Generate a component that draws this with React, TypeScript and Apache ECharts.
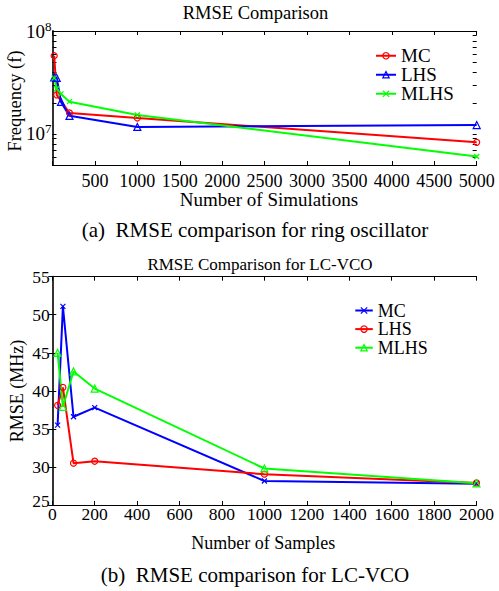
import React, { useEffect, useRef } from 'react';
import * as echarts from 'echarts';

const FONT = "'Liberation Serif', serif";

// ---------- (a) ring oscillator ----------
const simXMC = [20, 50, 200, 1000, 5000];
const simX = [20, 50, 100, 200, 1000, 5000];
const freqMC = [5.75e7, 2.4e7, 1.6e7, 1.43e7, 8.3e6];
const freqLHS = [3.55e7, 3.5e7, 2.05e7, 1.5e7, 1.17e7, 1.22e7];
const freqMLHS = [3.5e7, 2.75e7, 2.45e7, 2.06e7, 1.53e7, 6.05e6];
const freqMajorTicks = [1e7, 1e8];
const freqMinorTicks = [5e6, 6e6, 7e6, 8e6, 9e6, 2e7, 3e7, 4e7, 5e7, 6e7, 7e7, 8e7, 9e7];
const legendA = ['MC', 'LHS', 'MLHS'];
const titleA = 'RMSE Comparison';
const xNameA = 'Number of Simulations';
const yNameA = 'Frequency (f)';
const captionA = '(a)  RMSE comparison for ring oscillator';

// ---------- (b) LC-VCO ----------
const sampleX = [25, 50, 100, 200, 1000, 2000];
const rmseMC = [35.5, 51.1, 36.6, 37.8, 28.15, 27.8];
const rmseLHS = [38.1, 40.45, 30.5, 30.75, 29.05, 27.9];
const rmseMLHS = [45.0, 37.9, 42.55, 40.3, 29.8, 27.85];
const legendB = ['MC', 'LHS', 'MLHS'];
const titleB = 'RMSE Comparison for LC-VCO';
const xNameB = 'Number of Samples';
const yNameB = 'RMSE (MHz)';
const captionB = '(b)  RMSE comparison for LC-VCO';

const RED = '#ff0000';
const BLUE = '#0000ff';
const GREEN = '#00ff00';
const XSYM = 'path://M0,0L10,10M10,0L0,10';

const blackLine = { show: true, lineStyle: { color: '#000', width: 1 } };
const rightLine = { show: true, lineStyle: { color: '#333', width: 2 } };

function txt(text: string, x: number, y: number, size: number, rotation = 0) {
  return {
    type: 'text',
    x,
    y,
    rotation,
    silent: true,
    style: {
      text,
      fontSize: size,
      fontFamily: FONT,
      textAlign: 'center',
      textVerticalAlign: 'middle',
      fill: '#000',
    },
  };
}

function series(name: string, xs: number[], ys: number[], color: string, symbol: string, size: number, xi: number, yi: number) {
  return {
    name,
    type: 'line',
    xAxisIndex: xi,
    yAxisIndex: yi,
    data: xs.map((x, i) => [x, ys[i]]),
    symbol,
    symbolSize: size,
    showSymbol: true,
    lineStyle: { color, width: 2 },
    itemStyle: { color: 'rgba(255,255,255,0)', borderColor: color, borderWidth: 1.2 },
    emphasis: { disabled: true },
  };
}

const logMin = 5e6;
const logMax = 1e8;
const minorTickPositions = [...freqMinorTicks, ...freqMajorTicks].map((v) => Math.log10(v));

const optionA: any = {
  animation: false,
  textStyle: { fontFamily: FONT },
  grid: { left: 52.5, top: 31, right: 22.3, bottom: 83, outerBoundsMode: 'none' },
  legend: {
    orient: 'vertical',
    left: 370,
    top: 41.25,
    itemWidth: 20,
    itemHeight: 8,
    itemGap: 0,
    data: legendA,
    selectedMode: false,
    itemStyle: { borderWidth: 1.2 },
    lineStyle: { width: 2 },
    textStyle: { fontSize: 19, lineHeight: 18.5, fontFamily: FONT, color: '#000' },
  },
  xAxis: [
    {
      type: 'value', position: 'bottom', min: 0, max: 5000, interval: 500,
      axisLine: blackLine,
      axisTick: { show: true, inside: true, length: 4, lineStyle: { color: '#000' } },
      axisLabel: {
        margin: 6.5, fontSize: 18, fontFamily: FONT, color: '#000',
        formatter: (v: number) => (v === 0 ? '' : String(v)),
      },
      splitLine: { show: false },
    },
    {
      type: 'value', position: 'top', min: 0, max: 5000, interval: 500,
      axisLine: blackLine,
      axisTick: { show: true, inside: true, length: 4, lineStyle: { color: '#000' } },
      axisLabel: { show: false },
      splitLine: { show: false },
    },
  ],
  yAxis: [
    {
      type: 'log', logBase: 10, position: 'left', min: logMin, max: logMax,
      axisLine: blackLine,
      axisTick: { show: false },
      axisLabel: {
        margin: 1, color: '#000', fontFamily: FONT,
        formatter: (v: number) => {
          const e = Math.log10(v);
          if (Math.abs(e - Math.round(e)) > 1e-6) return '';
          return `{b|10}{s|${Math.round(e)}}`;
        },
        rich: {
          b: { fontSize: 19, lineHeight: 19, fontFamily: FONT, color: '#000' },
          s: { fontSize: 13, lineHeight: 13, fontFamily: FONT, color: '#000', padding: [0, 0, 10, 0] },
        },
      },
      splitLine: { show: false },
    },
    {
      type: 'log', logBase: 10, position: 'right', min: logMin, max: logMax,
      axisLine: rightLine,
      axisTick: { show: false },
      axisLabel: { show: false },
      splitLine: { show: false },
    },
    {
      type: 'value', position: 'left', min: Math.log10(logMin), max: Math.log10(logMax),
      axisLine: { show: false },
      axisTick: { show: true, inside: true, length: 4, lineStyle: { color: '#000' }, customValues: minorTickPositions },
      axisLabel: { show: false },
      splitLine: { show: false },
    },
    {
      type: 'value', position: 'right', min: Math.log10(logMin), max: Math.log10(logMax),
      axisLine: { show: false },
      axisTick: { show: true, inside: true, length: 4, lineStyle: { color: '#000' }, customValues: minorTickPositions },
      axisLabel: { show: false },
      splitLine: { show: false },
    },
  ],
  series: [
    series(legendA[0], simXMC, freqMC, RED, 'circle', 6, 0, 0),
    series(legendA[1], simX, freqLHS, BLUE, 'triangle', 7, 0, 0),
    series(legendA[2], simX, freqMLHS, GREEN, XSYM, 5, 0, 0),
  ],
  graphic: [
    txt(titleA, 255.5, 12.8, 18.5),
    txt(yNameA, 15, 101, 18.5, Math.PI / 2),
    txt(xNameA, 269, 199.7, 19),
    txt(captionA, 255, 229.7, 21),
  ],
};

const optionB: any = {
  animation: false,
  textStyle: { fontFamily: FONT },
  grid: { left: 52.3, top: 28.7, right: 22.5, bottom: 86, outerBoundsMode: 'none' },
  legend: {
    orient: 'vertical',
    left: 349.3,
    top: 48.2,
    itemWidth: 17.5,
    itemHeight: 8,
    itemGap: 0,
    data: legendB,
    selectedMode: false,
    itemStyle: { borderWidth: 1.2 },
    lineStyle: { width: 2 },
    textStyle: { fontSize: 18, lineHeight: 18.6, fontFamily: FONT, color: '#000' },
  },
  xAxis: [
    {
      type: 'value', position: 'bottom', min: 0, max: 2000, interval: 200,
      axisLine: blackLine,
      axisTick: { show: true, inside: true, length: 4, lineStyle: { color: '#000' } },
      axisLabel: {
        margin: 0, fontSize: 17.5, fontFamily: FONT, color: '#000',
        formatter: (v: number) => String(v),
      },
      splitLine: { show: false },
    },
    {
      type: 'value', position: 'top', min: 0, max: 2000, interval: 200,
      axisLine: blackLine,
      axisTick: { show: true, inside: true, length: 4, lineStyle: { color: '#000' } },
      axisLabel: { show: false },
      splitLine: { show: false },
    },
  ],
  yAxis: [
    {
      type: 'value', position: 'left', min: 25, max: 55, interval: 5,
      axisLine: blackLine,
      axisTick: { show: true, inside: true, length: 4, lineStyle: { color: '#000' } },
      axisLabel: {
        margin: 2.5, color: '#000', fontFamily: FONT,
        formatter: (v: number) => (v === 25 ? `{lo|${v}}` : `{n|${v}}`),
        rich: {
          n: { fontSize: 17.5, fontFamily: FONT, color: '#000' },
          lo: { fontSize: 17.5, fontFamily: FONT, color: '#000', padding: [0, 0, 9, 0] },
        },
      },
      splitLine: { show: false },
    },
    {
      type: 'value', position: 'right', min: 25, max: 55, interval: 5,
      axisLine: rightLine,
      axisTick: { show: true, inside: true, length: 4, lineStyle: { color: '#000' } },
      axisLabel: { show: false },
      splitLine: { show: false },
    },
  ],
  series: [
    series(legendB[0], sampleX, rmseMC, BLUE, XSYM, 5, 0, 0),
    series(legendB[1], sampleX, rmseLHS, RED, 'circle', 6, 0, 0),
    series(legendB[2], sampleX, rmseMLHS, GREEN, 'triangle', 7, 0, 0),
  ],
  graphic: [
    txt(titleB, 260, 16.5, 17),
    txt(yNameB, 17, 142.9, 18, Math.PI / 2),
    txt(xNameB, 263.3, 294.5, 18),
    txt(captionB, 255, 327, 21),
  ],
};

function EChart({ option, style }: { option: any; style: React.CSSProperties }) {
  const ref = useRef<HTMLDivElement>(null);
  useEffect(() => {
    if (!ref.current) return;
    const chart = echarts.init(ref.current, null, { renderer: 'svg' });
    chart.setOption(option);
    return () => chart.dispose();
  }, [option]);
  return <div ref={ref} style={style} />;
}

export default function App() {
  return (
    <div style={{ position: 'absolute', left: 0, top: 0, width: 499, height: 591, background: '#fff' }}>
      <EChart option={optionA} style={{ position: 'absolute', left: 0, top: 0, width: 499, height: 248 }} />
      <EChart option={optionB} style={{ position: 'absolute', left: 0, top: 248, width: 499, height: 343 }} />
    </div>
  );
}
